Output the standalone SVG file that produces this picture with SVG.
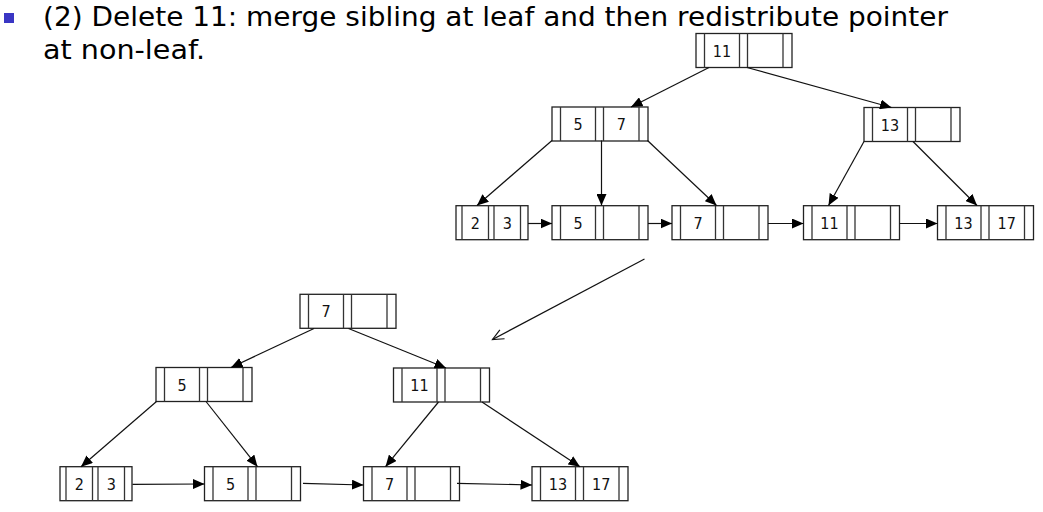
<svg xmlns="http://www.w3.org/2000/svg" width="1043" height="512" viewBox="0 0 1043 512">
<style>
  .box{fill:#fff;stroke:#222;stroke-width:1.3}
  .div{stroke:#333;stroke-width:1.3}
  .k{font-family:"DejaVu Sans Condensed","DejaVu Sans",sans-serif;font-size:16px;fill:#111;text-anchor:middle}
  .title{font-family:"DejaVu Sans","Liberation Sans",sans-serif;font-size:26px;fill:#000}
  .e{stroke:#111;stroke-width:1.2;fill:none;marker-end:url(#ah)}
  .o{stroke:#111;stroke-width:1.2;fill:none;marker-end:url(#oh)}
</style>
<defs>
  <marker id="ah" markerUnits="userSpaceOnUse" markerWidth="12" markerHeight="10" refX="11.5" refY="5" orient="auto">
    <path d="M0,0 L11.5,5 L0,10 z" fill="#000"/>
  </marker>
  <marker id="oh" markerUnits="userSpaceOnUse" markerWidth="14" markerHeight="12" refX="12" refY="6" orient="auto">
    <path d="M1,1 L12,6 L1,11" fill="none" stroke="#111" stroke-width="1.2"/>
  </marker>
  <g id="wide">
    <rect class="box" x="0" y="0" width="96" height="34"/>
    <line class="div" x1="8.5" y1="0" x2="8.5" y2="34"/>
    <line class="div" x1="43.5" y1="0" x2="43.5" y2="34"/>
    <line class="div" x1="51.5" y1="0" x2="51.5" y2="34"/>
    <line class="div" x1="87" y1="0" x2="87" y2="34"/>
  </g>
  <g id="small">
    <rect class="box" x="0" y="0" width="72" height="34"/>
    <line class="div" x1="6" y1="0" x2="6" y2="34"/>
    <line class="div" x1="32.5" y1="0" x2="32.5" y2="34"/>
    <line class="div" x1="38" y1="0" x2="38" y2="34"/>
    <line class="div" x1="64.5" y1="0" x2="64.5" y2="34"/>
  </g>
</defs>
<rect width="1043" height="512" fill="#fff"/>

<g id="title">
  <rect x="4" y="13" width="10" height="10" fill="#3a36c4"/>
  <text class="title" x="43" y="26" textLength="905" lengthAdjust="spacingAndGlyphs">(2) Delete 11: merge sibling at leaf and then redistribute pointer</text>
  <text class="title" x="43" y="59" textLength="162" lengthAdjust="spacingAndGlyphs">at non-leaf.</text>
</g>

<!-- top tree -->
<g id="t-root" transform="translate(696,33.5)"><use href="#wide"/><text class="k" x="26" y="23">11</text></g>
<g id="t-n57" transform="translate(552,107)"><use href="#wide"/><text class="k" x="26" y="23">5</text><text class="k" x="69.25" y="23">7</text></g>
<g id="t-n13" transform="translate(864,107.5)"><use href="#wide"/><text class="k" x="26" y="23">13</text></g>
<g id="t-l23" transform="translate(456,205.7)"><use href="#small"/><text class="k" x="19.25" y="23">2</text><text class="k" x="51.25" y="23">3</text></g>
<g id="t-l5" transform="translate(552,205.7)"><use href="#wide"/><text class="k" x="26" y="23">5</text></g>
<g id="t-l7" transform="translate(672,205.7)"><use href="#wide"/><text class="k" x="26" y="23">7</text></g>
<g id="t-l11" transform="translate(803.5,205.7)"><use href="#wide"/><text class="k" x="26" y="23">11</text></g>
<g id="t-l1317" transform="translate(937.5,205.7)"><use href="#wide"/><text class="k" x="26" y="23">13</text><text class="k" x="69.25" y="23">17</text></g>

<!-- bottom tree -->
<g id="b-root" transform="translate(300,294.3)"><use href="#wide"/><text class="k" x="26" y="23">7</text></g>
<g id="b-n5" transform="translate(156,367.5)"><use href="#wide"/><text class="k" x="26" y="23">5</text></g>
<g id="b-n11" transform="translate(393.5,368)"><use href="#wide"/><text class="k" x="26" y="23">11</text></g>
<g id="b-l23" transform="translate(60,466.7)"><use href="#small"/><text class="k" x="19.25" y="23">2</text><text class="k" x="51.25" y="23">3</text></g>
<g id="b-l5" transform="translate(204.5,466.7)"><use href="#wide"/><text class="k" x="26" y="23">5</text></g>
<g id="b-l7" transform="translate(363.5,466.7)"><use href="#wide"/><text class="k" x="26" y="23">7</text></g>
<g id="b-l1317" transform="translate(532,466.7)"><use href="#wide"/><text class="k" x="26" y="23">13</text><text class="k" x="69.25" y="23">17</text></g>

<g id="connectors">
  <line class="e" x1="709" y1="67.5" x2="631" y2="107"/>
  <line class="e" x1="747" y1="67.5" x2="891.5" y2="107.5"/>
  <line class="e" x1="552" y1="140.5" x2="477" y2="205.5"/>
  <line class="e" x1="601.5" y1="140.5" x2="601.5" y2="205.5"/>
  <line class="e" x1="647.5" y1="140.5" x2="716.5" y2="205.5"/>
  <line class="e" x1="864" y1="141.5" x2="828.5" y2="205.5"/>
  <line class="e" x1="913" y1="141.5" x2="977" y2="205.5"/>
  <line class="e" x1="528" y1="223.5" x2="552" y2="223.5"/>
  <line class="e" x1="648" y1="223.5" x2="672" y2="223.5"/>
  <line class="e" x1="768" y1="223.5" x2="803.5" y2="223.5"/>
  <line class="e" x1="899.5" y1="223.5" x2="937.5" y2="223.5"/>

  <line class="o" x1="644.5" y1="259" x2="492.5" y2="339.5"/>

  <line class="e" x1="314" y1="328.5" x2="231" y2="367.5"/>
  <line class="e" x1="348.5" y1="328.5" x2="446" y2="368"/>
  <line class="e" x1="156.5" y1="401.5" x2="81" y2="466.7"/>
  <line class="e" x1="206" y1="401.5" x2="257.5" y2="466.7"/>
  <line class="e" x1="438.5" y1="402" x2="385.5" y2="466.7"/>
  <line class="e" x1="482" y1="402" x2="580" y2="466.7"/>
  <line class="e" x1="132.5" y1="484.3" x2="204.5" y2="484"/>
  <line class="e" x1="303" y1="483.3" x2="363.5" y2="485"/>
  <line class="e" x1="457" y1="483.3" x2="532" y2="485"/>
</g>
</svg>
